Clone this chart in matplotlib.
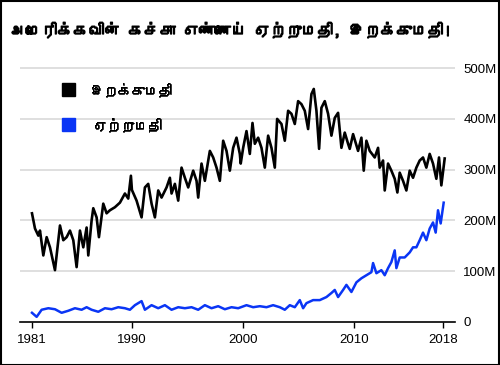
import matplotlib
matplotlib.use("Agg")
import matplotlib.pyplot as plt
import matplotlib.patheffects as pe
from matplotlib import font_manager
from matplotlib.ft2font import FT2Font
from matplotlib.patches import Rectangle

# ---------------- data (values in millions of barrels) ----------------
title = "அமெரிக்கவின் கச்சா எண்ணெய் ஏற்றுமதி, இறக்குமதி!"
import_label = "இறக்குமதி"
export_label = "ஏற்றுமதி"

import_years = [1981.0, 1981.27, 1981.57, 1981.72, 1982.02, 1982.32, 1982.62, 1983.07, 1983.37, 1983.52,
                1983.82, 1984.12, 1984.42, 1984.72, 1985.02, 1985.32, 1985.62, 1985.92, 1986.07, 1986.37,
                1986.52, 1986.82, 1987.03, 1987.42, 1987.72, 1988.02, 1988.47, 1988.92, 1989.37, 1989.67,
                1989.91, 1990.0, 1990.42, 1990.87, 1991.17, 1991.47, 1991.77, 1992.07, 1992.37, 1992.67,
                1993.12, 1993.42, 1993.57, 1993.87, 1994.17, 1994.47, 1994.77, 1995.07, 1995.52, 1995.82,
                1995.97, 1996.27, 1996.57, 1997.02, 1997.32, 1997.62, 1997.92, 1998.22, 1998.52, 1998.82,
                1999.12, 1999.42, 1999.72, 1999.8, 2000.02, 2000.32, 2000.62, 2000.86, 2001.07, 2001.37,
                2001.67, 2001.97, 2002.27, 2002.57, 2002.87, 2003.08, 2003.47, 2003.77, 2004.07, 2004.37,
                2004.67, 2004.97, 2005.27, 2005.57, 2005.87, 2006.17, 2006.38, 2006.62, 2006.86, 2007.07,
                2007.37, 2007.67, 2007.97, 2008.27, 2008.57, 2008.87, 2009.17, 2009.47, 2009.62, 2009.92,
                2010.37, 2010.67, 2010.88, 2011.12, 2011.42, 2011.87, 2012.17, 2012.32, 2012.62, 2012.77,
                2013.07, 2013.37, 2013.67, 2013.91, 2014.12, 2014.42, 2014.72, 2015.02, 2015.32, 2015.62,
                2015.92, 2016.22, 2016.52, 2016.82, 2017.12, 2017.42, 2017.66, 2017.87, 2018.17]
import_values = [214, 184, 170, 180, 131, 167, 147, 102, 161, 190,
                 161, 167, 180, 161, 108, 180, 147, 186, 131, 200,
                 224, 206, 167, 233, 214, 220, 226, 235, 253, 243,
                 288, 260, 239, 206, 265, 272, 233, 206, 259, 245,
                 265, 284, 253, 272, 239, 304, 284, 265, 298, 278,
                 245, 312, 278, 337, 324, 304, 278, 357, 337, 298,
                 343, 363, 331, 312, 343, 376, 331, 392, 351, 363,
                 343, 304, 367, 343, 304, 400, 390, 357, 416, 410,
                 390, 435, 429, 416, 380, 449, 459, 416, 341, 422,
                 435, 410, 367, 402, 412, 343, 373, 351, 341, 370,
                 337, 363, 298, 357, 337, 324, 343, 304, 318, 259,
                 312, 298, 282, 255, 294, 278, 259, 298, 284, 304,
                 318, 324, 304, 331, 312, 282, 324, 269, 322]

export_years = [1981.0, 1981.42, 1981.87, 1982.47, 1983.07, 1983.67, 1984.27, 1984.87, 1985.47, 1985.92,
                1986.37, 1986.97, 1987.57, 1988.17, 1988.77, 1989.37, 1989.82, 1990.27, 1990.87, 1991.17,
                1991.77, 1992.37, 1992.97, 1993.57, 1994.17, 1994.77, 1995.37, 1995.97, 1996.57, 1997.17,
                1997.77, 1998.37, 1998.97, 1999.57, 2000.32, 2000.92, 2001.52, 2002.12, 2002.72, 2003.32,
                2003.77, 2004.22, 2004.67, 2005.12, 2005.42, 2005.72, 2006.32, 2006.92, 2007.52, 2007.97,
                2008.27, 2008.57, 2009.02, 2009.32, 2009.77, 2010.22, 2010.67, 2011.12, 2011.57, 2011.72,
                2012.02, 2012.47, 2012.77, 2013.07, 2013.37, 2013.67, 2013.82, 2014.12, 2014.57, 2015.02,
                2015.32, 2015.62, 2015.92, 2016.22, 2016.52, 2016.82, 2017.12, 2017.36, 2017.57, 2017.81,
                2018.08]
export_values = [18, 10, 24, 27, 25, 18, 22, 27, 24, 29,
                 24, 20, 27, 25, 29, 27, 24, 33, 41, 24,
                 33, 27, 33, 24, 29, 27, 29, 24, 33, 27,
                 31, 25, 29, 27, 33, 29, 31, 29, 33, 29,
                 24, 33, 29, 43, 27, 37, 43, 43, 49, 57,
                 63, 49, 63, 73, 59, 78, 86, 92, 98, 116,
                 96, 102, 92, 106, 118, 141, 106, 127, 127, 137,
                 147, 147, 161, 176, 161, 184, 196, 176, 220, 194,
                 235]

x_ticks = [1981, 1990, 2000, 2010, 2018]
y_ticks = [0, 100, 200, 300, 400, 500]
y_tick_labels = ["0", "100M", "200M", "300M", "400M", "500M"]

# ---------------- fonts ----------------
def find_family(codepoint):
    for f in font_manager.fontManager.ttflist:
        try:
            if codepoint in FT2Font(f.fname).get_charmap():
                return f.name
        except Exception:
            pass
    return None

tamil_family = find_family(0x0B87)
text_families = ([tamil_family] if tamil_family else []) + ["DejaVu Sans"]
names = {f.name for f in font_manager.fontManager.ttflist}
num_family = "Liberation Sans Narrow" if "Liberation Sans Narrow" in names else "Liberation Sans"

BLUE = "#0a35f5"

# ---------------- figure ----------------
fig = plt.figure(figsize=(5.0, 3.65), dpi=100)
ax = fig.add_axes([0.04, 0.118, 0.87, 0.712])

ax.plot(export_years, export_values, color=BLUE, lw=1.8, solid_joinstyle="round", zorder=3)
ax.plot(import_years, import_values, color="black", lw=1.9, solid_joinstyle="round", zorder=4)

ax.set_xlim(1979.92, 2019.1)
ax.set_ylim(0, 512)

for v in y_ticks[1:]:
    ax.axhline(v, color="#dcdcdc", lw=1.3, zorder=1)

for s in ["top", "left", "right"]:
    ax.spines[s].set_visible(False)
ax.spines["bottom"].set_color("black")
ax.spines["bottom"].set_linewidth(1.2)

ax.set_xticks(x_ticks)
ax.set_xticklabels([str(t) for t in x_ticks], fontfamily=num_family, fontsize=9.5)
ax.tick_params(axis="x", length=4, width=1, color="black", pad=5)
ax.yaxis.tick_right()
ax.set_yticks(y_ticks)
ax.set_yticklabels(y_tick_labels, fontfamily=num_family, fontsize=9.5)
ax.tick_params(axis="y", length=0, pad=6)


def fit_text(t, max_px):
    r = fig.canvas.get_renderer()
    w = t.get_window_extent(renderer=r).width
    if w > max_px:
        t.set_fontsize(t.get_fontsize() * max_px / w)


# legend
fig.patches.append(Rectangle((62 / 500, 1 - 96 / 365), 13 / 500, 13 / 365,
                             transform=fig.transFigure, color="black"))
fig.patches.append(Rectangle((62 / 500, 1 - 131 / 365), 13 / 500, 13 / 365,
                             transform=fig.transFigure, color=BLUE))
t1 = fig.text(90 / 500, 1 - 90 / 365, import_label, family=text_families, fontsize=11, va="center")
t2 = fig.text(93 / 500, 1 - 125 / 365, export_label, family=text_families, fontsize=11, va="center")
fit_text(t1, 82)
t2.set_fontsize(t1.get_fontsize())
for t in (t1, t2):
    t.set_path_effects([pe.withStroke(linewidth=0.4, foreground="black")])

tt = fig.text(10 / 500, 1 - 30 / 365, title, family=text_families, fontsize=13,
              fontweight="bold", va="center")
fit_text(tt, 440)
tt.set_path_effects([pe.withStroke(linewidth=0.9, foreground="black")])

fig.patches.append(Rectangle((0.001, 0.001), 0.997, 0.997, transform=fig.transFigure,
                             fill=False, edgecolor="black", lw=1.5))

fig.savefig("out.png", dpi=100)
